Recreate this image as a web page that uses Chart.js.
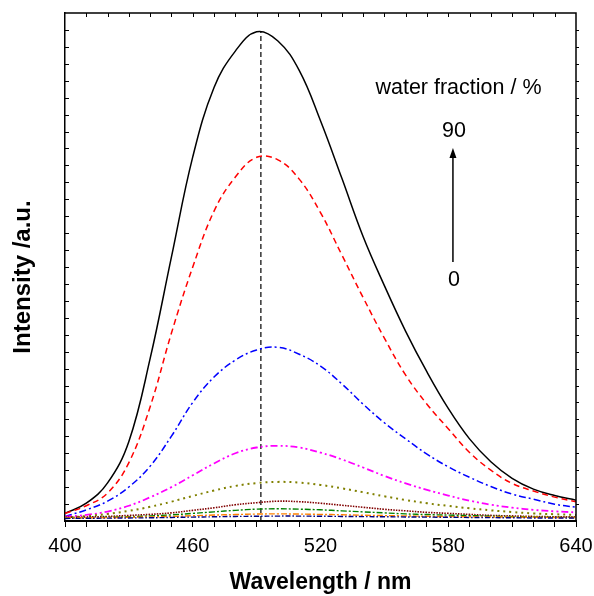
<!DOCTYPE html>
<html><head><meta charset="utf-8">
<script src="https://cdn.jsdelivr.net/npm/chart.js@4/dist/chart.umd.min.js"></script>
<style>html,body{margin:0;padding:0;background:#fff;}#wrap{width:594px;height:596px;}</style>
</head><body><div id="wrap"><canvas id="c" width="594" height="596"></canvas></div>
<script>
const wavelengths = [400,410,420,430,440,450,460,470,480,490,500,510,520,530,540,550,560,570,580,590,600,610,620,630,640];
const water90 = [45,105,225,470,960,1560,2150,2560,2775,2889,2835,2661,2364,2025,1680,1390,1120,880,665,485,350,252,188,150,123];
const water80 = [45,90,165,345,675,1110,1500,1830,2031,2148,2133,2019,1821,1572,1320,1080,861,690,545,405,300,222,177,141,114];
const water70 = [27,66,117,201,324,501,700,850,950,1010,1026,985,915,810,690,580,485,395,320,258,204,159,129,99,81];
const water60 = [26,36,56,90,140,200,270,340,400,434,444,434,404,364,316,266,222,184,150,120,96,79,66,57,51];
const water50 = [21,29,42,60,84,114,148,180,207,224,231,227,213,193,170,146,124,105,89,75,63,53,45,40,36];
const water40 = [21,24,27,33,39,48,63,78,96,108,117,114,105,93,81,69,60,51,45,39,33,30,27,25,24];
const water30 = [18,20,22,25,30,36,45,54,63,70,72,70,66,60,54,48,42,38,35,32,29,26,24,22,21];
const water20 = [18,19,20,22,24,27,31,35,38,41,42,41,39,37,34,32,30,28,26,25,24,23,22,21,21];
const water10 = [15,16,17,18,19,21,23,25,27,28,29,29,28,27,26,25,24,23,22,21,20,19,18,18,18];
const peakWavelength = 492;
const peakIntensity = 2889;
const xMin = 400, xMax = 640, xMajor = 60, xMinor = 10;
const yMin = 0, yMax = 3000, yMinor = 100;
const xTitle = 'Wavelength / nm';
const yTitle = 'Intensity /a.u.';
const noteTitle = 'water fraction / %';
const noteHigh = '90', noteLow = '0';

const FONT = "'Liberation Sans', Arial, Helvetica, sans-serif";
function pts(arr){ return wavelengths.map((w,i)=>({x:w,y:arr[i]})); }
function ds(arr,color,dash,width){
  return {data:pts(arr),borderColor:color,borderDash:dash,borderWidth:width||1.4,pointRadius:0,
    fill:false,tension:0.4};
}
const datasets = [
  ds(water10,'#000080',[5,2,1.5,2]),
  ds(water20,'#FF8000',[6,2,2,2]),
  ds(water30,'#008000',[6,2,2,2]),
  ds(water40,'#800000',[1.5,1.2],1.6),
  ds(water50,'#808000',[2,4],2),
  ds(water60,'#FF00FF',[7,3,2,3,2,3],1.8),
  ds(water70,'#0000FF',[7,3,2,3],1.5),
  ds(water80,'#FF0000',[6,4],1.5),
  ds(water90,'#000000',[],1.5),
  {data:[{x:peakWavelength,y:yMin},{x:peakWavelength,y:peakIntensity}],borderColor:'#000',borderDash:[5,3],
    borderWidth:1.2,pointRadius:0,fill:false,tension:0}
];

const framePlugin = {
  id:'frame',
  afterDraw(chart){
    const {ctx, chartArea:a, scales:{x,y}} = chart;
    ctx.save();
    ctx.strokeStyle='#000';
    ctx.lineWidth=1.5;
    ctx.beginPath();
    ctx.moveTo(a.left,a.top); ctx.lineTo(a.right,a.top); ctx.lineTo(a.right,a.bottom);
    ctx.stroke();
    ctx.lineWidth=1;
    ctx.beginPath();
    for(let v=yMin+yMinor; v<yMax; v+=yMinor){
      const py=Math.round(y.getPixelForValue(v))+0.5;
      ctx.moveTo(a.left,py); ctx.lineTo(a.left+4,py);
      ctx.moveTo(a.right,py); ctx.lineTo(a.right+3,py);
    }
    for(let v=xMin+xMinor; v<xMax; v+=xMinor){
      const px=Math.round(x.getPixelForValue(v))+0.5;
      ctx.moveTo(px,a.top); ctx.lineTo(px,a.top+4);
    }
    ctx.stroke();
    // annotation
    ctx.fillStyle='#000';
    ctx.font='21.5px '+FONT;
    ctx.textAlign='center'; ctx.textBaseline='middle';
    ctx.fillText(noteTitle, x.getPixelForValue(584.8), y.getPixelForValue(2555));
    const ax = x.getPixelForValue(582.2);
    ctx.fillText(noteHigh, ax+1, y.getPixelForValue(2300));
    ctx.fillText(noteLow, ax+1, y.getPixelForValue(1420));
    const yTop = y.getPixelForValue(2203), yBot = y.getPixelForValue(1530);
    ctx.lineWidth=1.5;
    ctx.beginPath(); ctx.moveTo(ax,yBot); ctx.lineTo(ax,yTop+8); ctx.stroke();
    ctx.beginPath(); ctx.moveTo(ax,yTop); ctx.lineTo(ax-3.5,yTop+10); ctx.lineTo(ax+3.5,yTop+10); ctx.closePath(); ctx.fill();
    ctx.restore();
  }
};

new Chart(document.getElementById('c'), {
  type:'line',
  data:{datasets},
  options:{
    responsive:false, animation:false, devicePixelRatio:1,
    layout:{padding:{left:0,top:13,right:18,bottom:0}},
    plugins:{legend:{display:false},tooltip:{enabled:false}},
    scales:{
      x:{type:'linear',min:xMin,max:xMax,
        ticks:{stepSize:xMinor,autoSkip:false,maxRotation:0,padding:7,color:'#000',
          font:{family:FONT,size:20},
          callback:(v)=> (v-xMin)%xMajor===0 ? String(v) : ''},
        grid:{drawOnChartArea:false,drawTicks:true,tickLength:6,color:'#000',lineWidth:1},
        border:{display:true,color:'#000',width:2},
        title:{display:true,text:xTitle,color:'#000',font:{family:FONT,size:23,weight:'bold'},padding:{bottom:0,top:0}},
        afterFit:(s)=>{s.height=75; s.paddingLeft=0; s.paddingRight=0;}
      },
      y:{type:'linear',min:yMin,max:yMax,
        ticks:{display:false},
        grid:{drawOnChartArea:false,drawTicks:false},
        border:{display:true,color:'#000',width:1.5},
        title:{display:true,text:yTitle+'\u00A0\u00A0\u00A0',color:'#000',font:{family:FONT,size:24,weight:'bold'},padding:{top:9,bottom:0}},
        afterFit:(s)=>{s.width=65; s.paddingTop=0; s.paddingBottom=0;}
      }
    }
  },
  plugins:[framePlugin]
});
</script></body></html>
